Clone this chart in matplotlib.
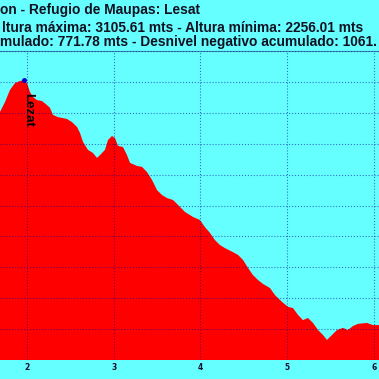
import matplotlib
matplotlib.use('Agg')
import matplotlib.pyplot as plt

# profile: distance (km) and altitude (m)
km = [1.689, 1.747, 1.804, 1.862, 1.920, 1.966, 2.000, 2.035, 2.069, 2.116,
      2.173, 2.231, 2.265, 2.300, 2.358, 2.461, 2.519, 2.577, 2.611, 2.646,
      2.703, 2.761, 2.807, 2.842, 2.899, 2.934, 2.980, 3.015, 3.049, 3.107,
      3.153, 3.188, 3.268, 3.326, 3.384, 3.441, 3.499, 3.556, 3.614, 3.683,
      3.741, 3.822, 3.914, 3.994, 4.052, 4.110, 4.167, 4.225, 4.283, 4.375,
      4.433, 4.490, 4.548, 4.605, 4.663, 4.721, 4.801, 4.859, 4.940, 5.009,
      5.067, 5.124, 5.182, 5.239, 5.297, 5.355, 5.412, 5.458, 5.516, 5.574,
      5.643, 5.700, 5.758, 5.816, 5.919, 5.989, 6.058]
alt = [3003, 3035, 3074, 3096, 3103, 3105.61, 3096, 3067, 3051, 3041,
       3038, 3025, 3016, 2993, 2986, 2980, 2970, 2954, 2935, 2906,
       2880, 2870, 2854, 2863, 2880, 2912, 2925, 2918, 2893, 2889,
       2863, 2838, 2828, 2825, 2808, 2783, 2750, 2734, 2724, 2718,
       2702, 2679, 2663, 2653, 2630, 2611, 2588, 2572, 2562, 2549,
       2540, 2524, 2498, 2475, 2459, 2446, 2433, 2410, 2388, 2372,
       2368, 2346, 2329, 2336, 2320, 2297, 2281, 2265, 2281, 2297,
       2304, 2297, 2310, 2317, 2320, 2313, 2313]

peak_km = 1.966
peak_alt = 3105.61
xticks = [2, 3, 4, 5, 6]
yticks = list(range(2200, 3300, 100))

titles = ["on - Refugio de Maupas: Lesat",
          "ltura máxima: 3105.61 mts - Altura mínima: 2256.01 mts",
          "mulado: 771.78 mts - Desnivel negativo acumulado: 1061."]

bg = '#66ffff'
fig = plt.figure(figsize=(3.79, 3.79), dpi=100, facecolor=bg)
ax = fig.add_axes([0, 19/379, 1, 309/379], facecolor=bg)

ax.fill_between(km, alt, 2200, color='#ff0000', lw=0, zorder=1)
ax.plot([peak_km], [peak_alt], 'o', color='#0000cc', ms=2.5, zorder=4)
ax.text(2.01, 3064, 'Lezat', rotation=-90, ha='center', va='top',
        fontsize=9.5, fontweight='bold', family='Liberation Sans', zorder=5)

ax.set_xticks(xticks)
ax.set_yticks(yticks)
ax.set_xlim(1.689, 6.058)
ax.set_ylim(2200, 3200)
ax.set_yticklabels([])
ax.tick_params(length=0)
ax.tick_params(axis='x', pad=2, labelsize=5.5, labelcolor='#101030')
for t in ax.get_xticklabels():
    t.set_fontweight('bold')
ax.set_axisbelow(False)
ax.grid(True, color='#000099', alpha=0.55, linestyle=':', lw=0.8)
for s in ['left', 'right', 'bottom']:
    ax.spines[s].set_visible(False)
ax.spines['top'].set_color('#3a8fb5')
ax.spines['top'].set_linewidth(0.8)

ys = [14, 32, 46]
xs = [0, 2, 0]
for t, y, x in zip(titles, ys, xs):
    fig.text(x/379, 1 - y/379, t, ha='left', va='baseline', fontsize=9.9,
             fontweight='bold', family='Liberation Sans', color='#111122')

fig.savefig('out.png', dpi=100, facecolor=bg)
